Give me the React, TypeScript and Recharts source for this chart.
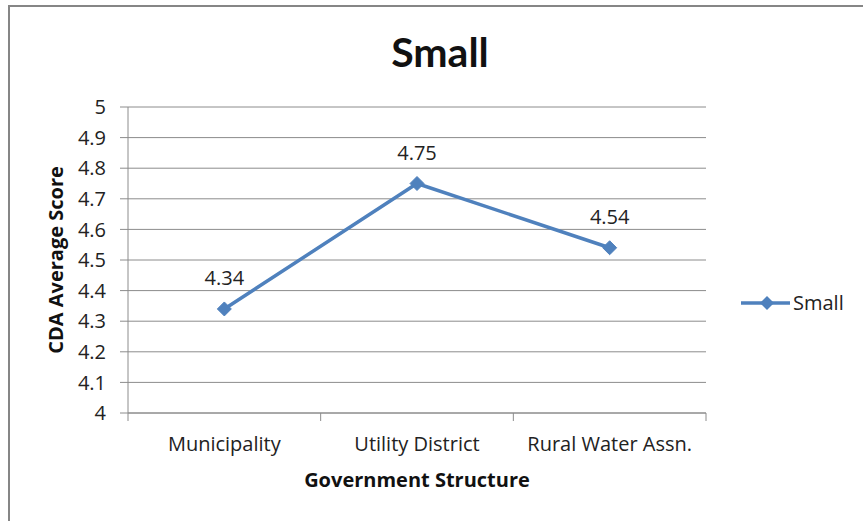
import React from "react";
import {
  LineChart,
  Line,
  XAxis,
  YAxis,
  CartesianGrid,
  Legend,
  LabelList,
} from "recharts";

const categories = ["Municipality", "Utility District", "Rural Water Assn."];
const smallScores = [4.34, 4.75, 4.54];
const yTicks = [4, 4.1, 4.2, 4.3, 4.4, 4.5, 4.6, 4.7, 4.8, 4.9, 5];

const data = categories.map((category, i) => ({
  category,
  Small: smallScores[i],
}));

const FONT = "'Open Sans', sans-serif";
const TITLE_FONT = "Lato, 'Open Sans', sans-serif";
const BLUE = "#4F81BD";
const GRID = "#8c8c8c";
const FS = 20;

function Diamond(props: any) {
  const { cx, cy } = props;
  if (cx == null || cy == null) return null;
  const r = 7;
  return (
    <polygon
      points={`${cx},${cy - r} ${cx + r},${cy} ${cx},${cy + r} ${cx - r},${cy}`}
      fill={BLUE}
      stroke={BLUE}
      strokeWidth={1}
    />
  );
}

function CategoryTick(props: any) {
  const { x, y, payload, index, visibleTicksCount } = props;
  const half = payload.offset ?? 0;
  const isLast = index === visibleTicksCount - 1;
  return (
    <g>
      <line x1={x - half} x2={x - half} y1={y - 8} y2={y} stroke={GRID} />
      {isLast && (
        <line x1={x + half} x2={x + half} y1={y - 8} y2={y} stroke={GRID} />
      )}
      <text
        x={x}
        y={y + 30}
        textAnchor="middle"
        fill="#222"
        fontSize={FS}
        fontFamily={FONT}
      >
        {payload.value}
      </text>
    </g>
  );
}

function LegendContent() {
  return (
    <div
      style={{
        display: "flex",
        alignItems: "center",
        fontFamily: FONT,
        fontSize: FS,
        color: "#222",
        width: 120,
      }}
    >
      <svg width={52} height={16}>
        <line x1={0} x2={49} y1={8} y2={8} stroke={BLUE} strokeWidth={3.5} />
        <polygon points="26,1 33,8 26,15 19,8" fill={BLUE} />
      </svg>
      <span>Small</span>
    </div>
  );
}

export default function App() {
  return (
    <div
      style={{
        position: "absolute",
        left: 0,
        top: 0,
        width: 863,
        height: 521,
        background: "#fff",
        overflow: "hidden",
      }}
    >
      <div
        style={{
          position: "absolute",
          left: 8,
          top: 5,
          width: 900,
          height: 600,
          borderLeft: "2px solid #868686",
          borderTop: "2px solid #868686",
        }}
      />
      <div
        style={{
          position: "absolute",
          left: 0,
          width: 880,
          top: 27,
          textAlign: "center",
          fontFamily: TITLE_FONT,
          fontWeight: 700,
          fontSize: 41,
          color: "#111",
        }}
      >
        Small
      </div>
      <div style={{ position: "absolute", left: 0, top: 0 }}>
        <LineChart
          width={863}
          height={521}
          data={data}
          margin={{ top: 107, right: 37, bottom: 78, left: 68 }}
        >
          <CartesianGrid vertical={false} stroke={GRID} strokeWidth={1} />
          <XAxis
            dataKey="category"
            scale="band"
            height={30}
            axisLine={{ stroke: GRID }}
            tickLine={false}
            tick={<CategoryTick />}
            interval={0}
            label={{
              value: "Government Structure",
              position: "insideBottom",
              offset: -44,
              fontFamily: FONT,
              fontWeight: 700,
              fontSize: FS,
              fill: "#111",
              dx: 0,
            }}
          />
          <YAxis
            width={60}
            domain={[4, 5]}
            ticks={yTicks}
            interval={0}
            axisLine={{ stroke: GRID }}
            tickLine={{ stroke: GRID }}
            tickSize={8}
            tickMargin={14}
            tick={{ fontSize: FS, fontFamily: FONT, fill: "#222" }}
            label={{
              value: "CDA Average Score",
              angle: -90,
              position: "insideLeft",
              offset: -12,
              fontFamily: FONT,
              fontWeight: 700,
              fontSize: FS,
              fill: "#111",
              style: { textAnchor: "middle" },
            }}
          />
          <Legend
            layout="vertical"
            align="right"
            verticalAlign="middle"
            wrapperStyle={{ left: 741, top: 289, width: 120 }}
            content={<LegendContent />}
          />
          <Line
            type="linear"
            dataKey="Small"
            stroke={BLUE}
            strokeWidth={3.5}
            dot={<Diamond />}
            activeDot={false}
            isAnimationActive={false}
          >
            <LabelList
              dataKey="Small"
              position="top"
              offset={24}
              fontSize={FS}
              fontFamily={FONT}
              fill="#222"
            />
          </Line>
        </LineChart>
      </div>
    </div>
  );
}
